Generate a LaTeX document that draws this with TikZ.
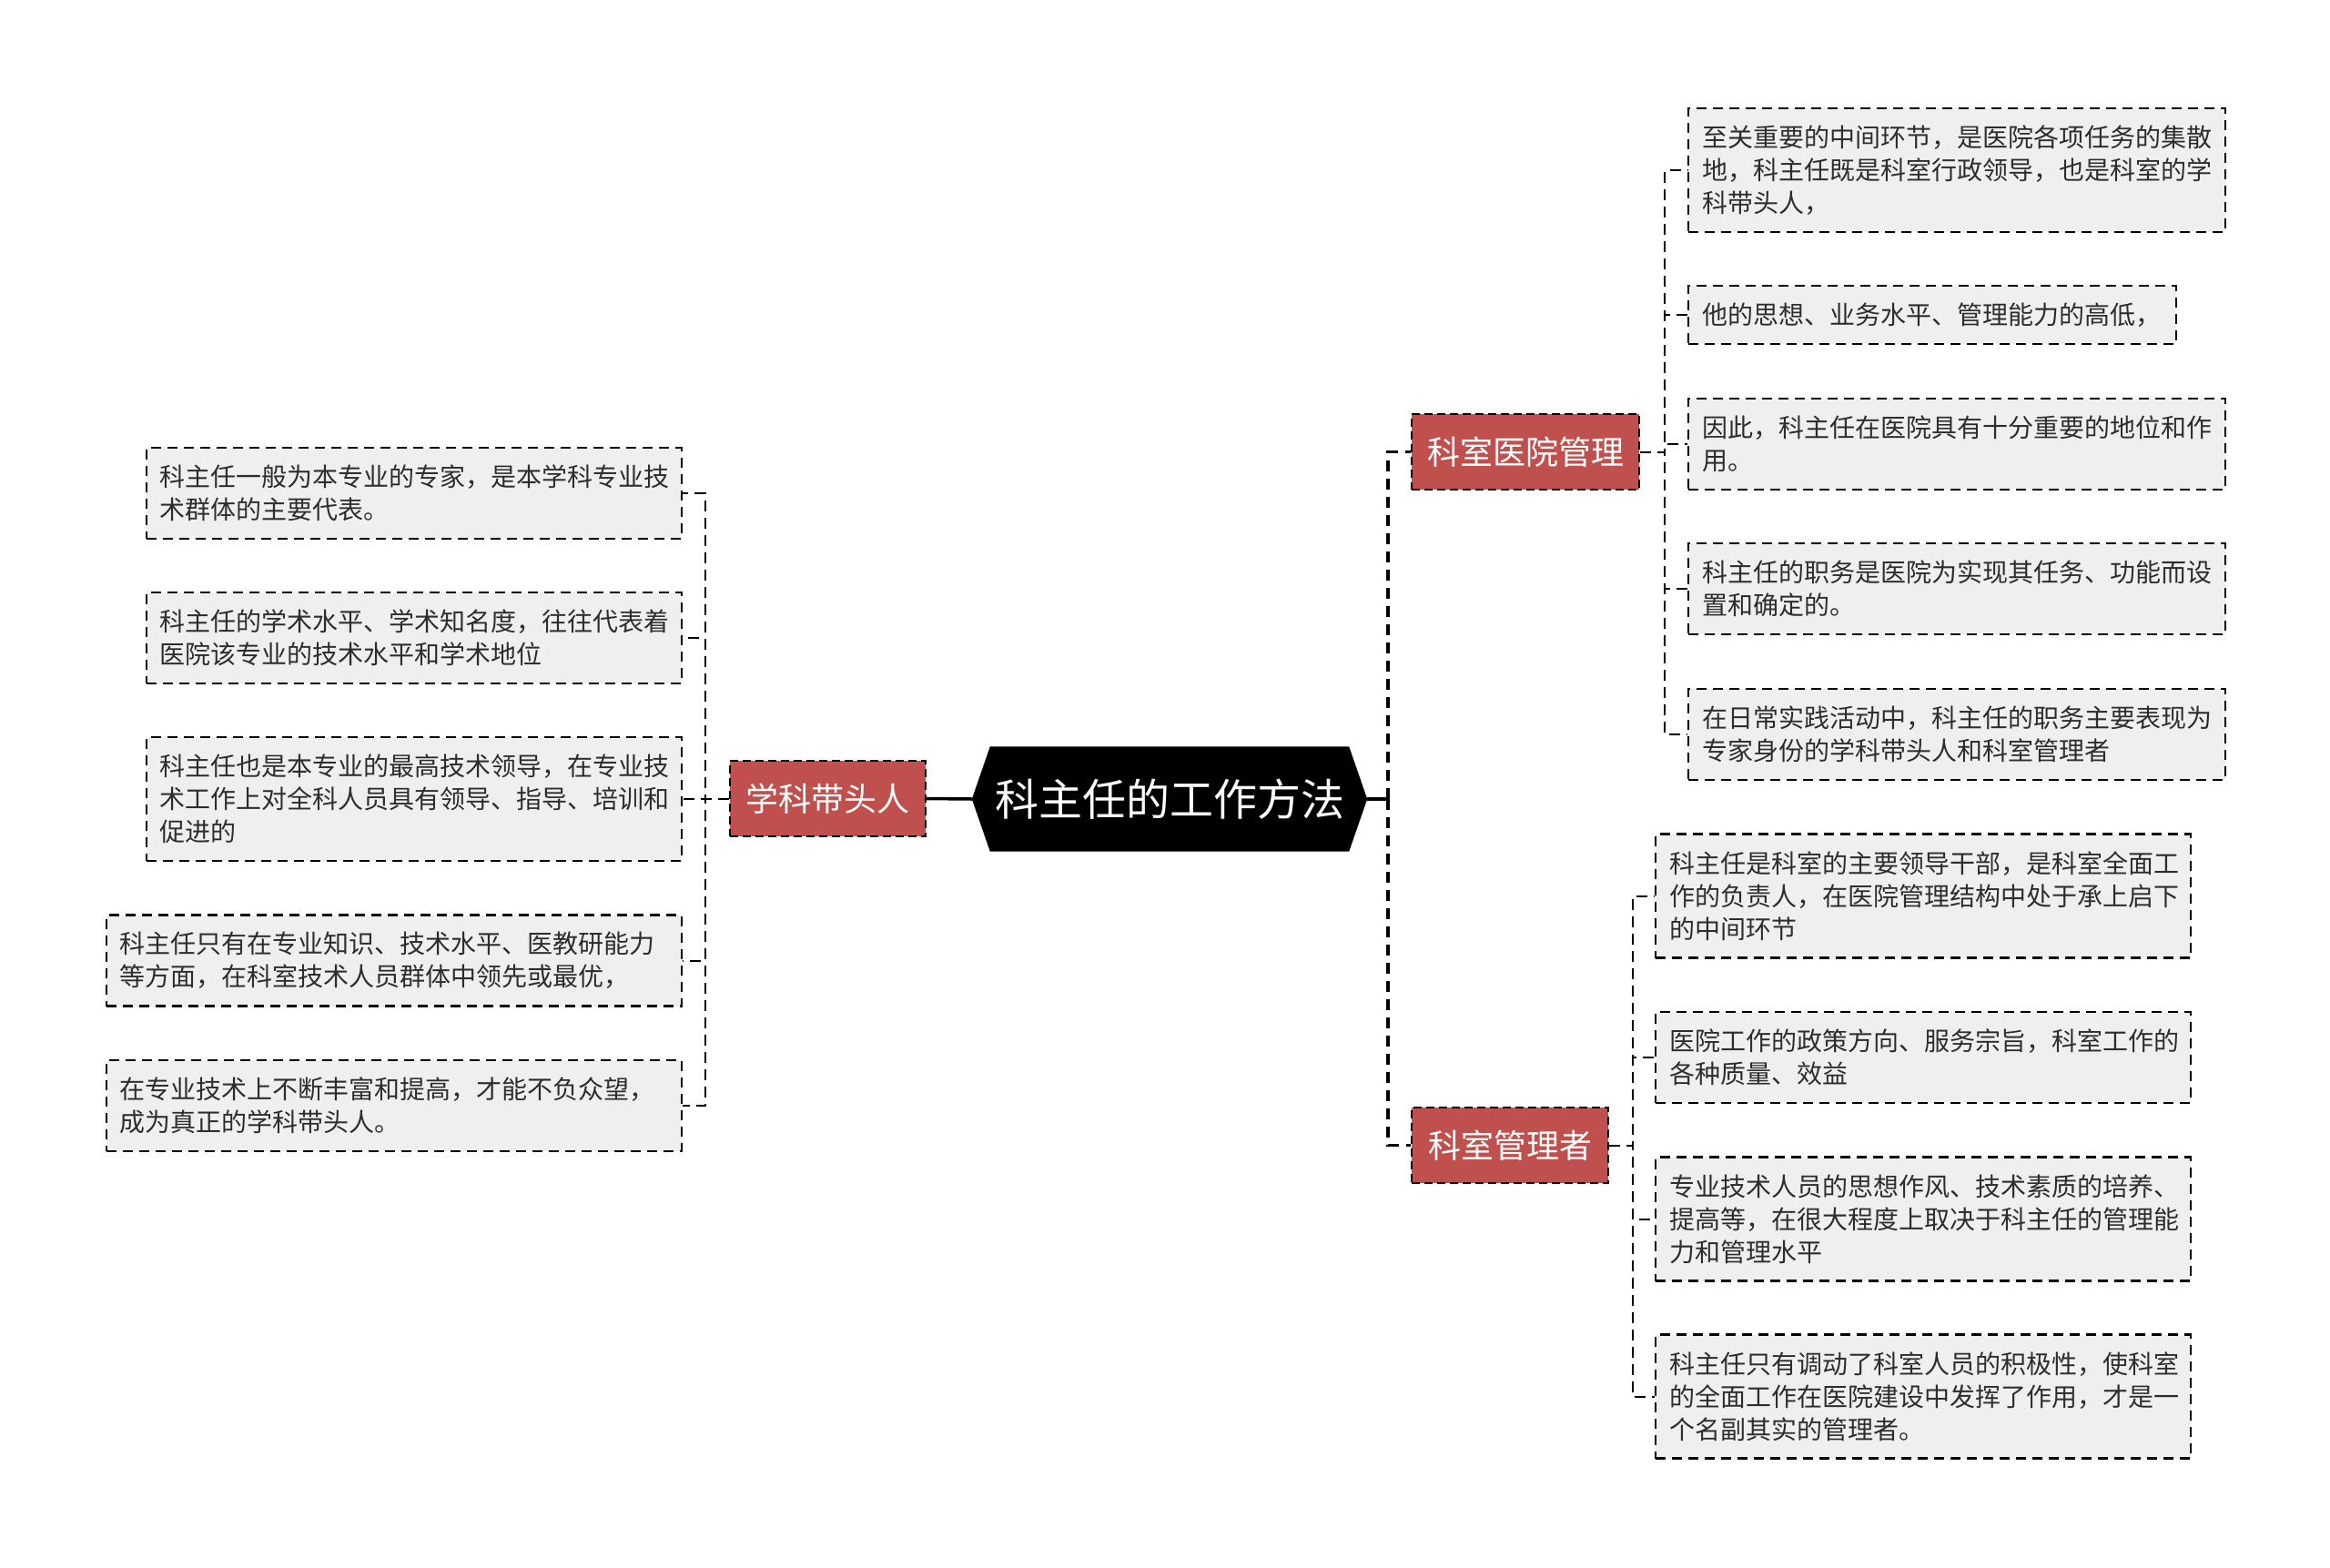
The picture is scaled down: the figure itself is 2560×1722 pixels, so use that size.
\documentclass[tikz,border=0pt]{standalone}
\usepackage{fontspec}
\setmainfont{Noto Sans CJK SC}
\usetikzlibrary{backgrounds}
\definecolor{redfill}{RGB}{192,80,77}
\definecolor{boxfill}{RGB}{239,239,239}
\definecolor{txtc}{RGB}{45,45,45}
\begin{document}
\begin{tikzpicture}[x=1pt,y=-1pt,
  leaf/.style={draw=black, fill=boxfill, dash pattern=on 11pt off 7pt, line width=2.4pt,
    text=txtc, font=\fontsize{28}{36}\selectfont, align=left, inner xsep=15pt, inner ysep=4pt},
  branch/.style={draw=black, fill=redfill, dash pattern=on 9pt off 5pt, line width=2.4pt,
    text=white, font=\fontsize{36}{40}\selectfont, inner sep=0pt, minimum height=83pt},
  rootnode/.style={text=white, font=\fontsize{48}{52}\selectfont, inner sep=0pt,
    minimum width=434pt, minimum height=115pt},
  spine/.style={draw=black, dash pattern=on 12pt off 8pt, line width=3.5pt},
  conn/.style={draw=black, dash pattern=on 12pt off 7pt, line width=2pt},
  solidc/.style={draw=black, line width=3.5pt}
]
\useasboundingbox (0,0) rectangle (2560,1722);

% root
\node[rootnode] (root) at (1285,878) {科主任的工作方法};
\begin{pgfonlayer}{background}
\fill[black] (root.west) -- ([xshift=20pt]root.north west) -- ([xshift=-20pt]root.north east)
  -- (root.east) -- ([xshift=-20pt]root.south east) -- ([xshift=20pt]root.south west) -- cycle;
\end{pgfonlayer}

% branches
\node[branch, minimum width=215pt] (b0) at (909.5,877.5) {学科带头人};
\node[branch, minimum width=250pt] (b1) at (1676,496.5) {科室医院管理};
\node[branch, minimum width=216pt] (b2) at (1659,1258.5) {科室管理者};

% left leaves
\node[leaf, anchor=east, text width=558pt, minimum height=100pt] (l1) at (750,542) {科主任一般为本专业的专家，是本学科专业技\\术群体的主要代表。};
\node[leaf, anchor=east, text width=558pt, minimum height=100pt] (l2) at (750,701) {科主任的学术水平、学术知名度，往往代表着\\医院该专业的技术水平和学术地位};
\node[leaf, anchor=east, text width=558pt, minimum height=136pt] (l3) at (750,878) {科主任也是本专业的最高技术领导，在专业技\\术工作上对全科人员具有领导、指导、培训和\\促进的};
\node[leaf, anchor=east, text width=602pt, minimum height=100pt] (l4) at (750,1055.5) {科主任只有在专业知识、技术水平、医教研能力\\等方面，在科室技术人员群体中领先或最优，};
\node[leaf, anchor=east, text width=602pt, minimum height=100pt] (l5) at (750,1215) {在专业技术上不断丰富和提高，才能不负众望，\\成为真正的学科带头人。};

% right top leaves
\node[leaf, anchor=west, text width=560pt, minimum height=136pt] (r1) at (1854,187) {至关重要的中间环节，是医院各项任务的集散\\地，科主任既是科室行政领导，也是科室的学\\科带头人，};
\node[leaf, anchor=west, text width=506pt, minimum height=64pt] (r2) at (1854,346) {他的思想、业务水平、管理能力的高低，};
\node[leaf, anchor=west, text width=560pt, minimum height=100pt] (r3) at (1854,488) {因此，科主任在医院具有十分重要的地位和作\\用。};
\node[leaf, anchor=west, text width=560pt, minimum height=100pt] (r4) at (1854,647) {科主任的职务是医院为实现其任务、功能而设\\置和确定的。};
\node[leaf, anchor=west, text width=560pt, minimum height=100pt] (r5) at (1854,807) {在日常实践活动中，科主任的职务主要表现为\\专家身份的学科带头人和科室管理者};

% right bottom leaves
\node[leaf, anchor=west, text width=558pt, minimum height=136pt] (s1) at (1818,984.5) {科主任是科室的主要领导干部，是科室全面工\\作的负责人，在医院管理结构中处于承上启下\\的中间环节};
\node[leaf, anchor=west, text width=558pt, minimum height=100pt] (s2) at (1818,1162) {医院工作的政策方向、服务宗旨，科室工作的\\各种质量、效益};
\node[leaf, anchor=west, text width=558pt, minimum height=136pt] (s3) at (1818,1339.5) {专业技术人员的思想作风、技术素质的培养、\\提高等，在很大程度上取决于科主任的管理能\\力和管理水平};
\node[leaf, anchor=west, text width=558pt, minimum height=136pt] (s4) at (1818,1534.5) {科主任只有调动了科室人员的积极性，使科室\\的全面工作在医院建设中发挥了作用，才是一\\个名副其实的管理者。};

% root connectors
\coordinate (sp) at (1525,878);
\draw[solidc] (root.east) -- (sp);
\draw[spine] (sp) |- (b1.west);
\draw[spine] (sp) |- (b2.west);
\draw[solidc] (root.west) -- (b0.east);

% leaf connectors
\foreach \n in {l1,l2,l3,l4,l5} { \draw[conn] (b0.west) -- ++(-26,0) |- (\n.east); }
\foreach \n in {r1,r2,r3,r4,r5} { \draw[conn] (b1.east) -- ++(27,0) |- (\n.west); }
\foreach \n in {s1,s2,s3,s4} { \draw[conn] (b2.east) -- ++(26,0) |- (\n.west); }
\end{tikzpicture}
\end{document}
